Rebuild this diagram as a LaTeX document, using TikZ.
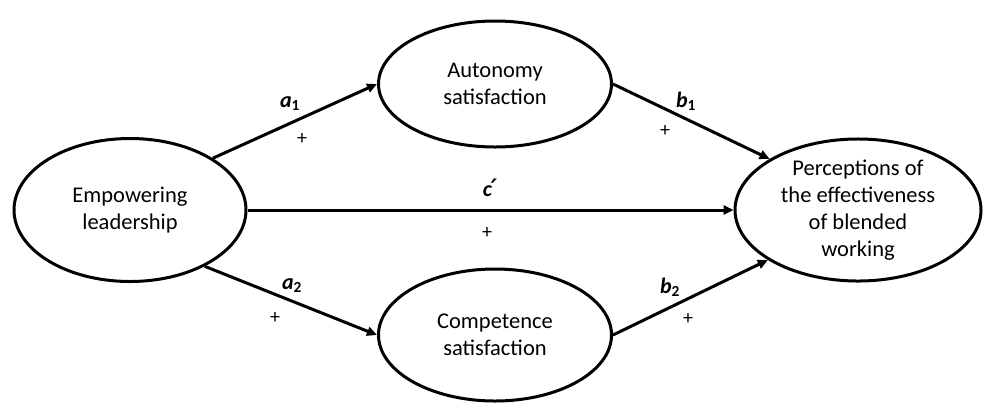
\documentclass[tikz,border=0pt]{standalone}
\usepackage{fontspec}
\setmainfont{Carlito}
\newfontfamily\primefont{DejaVu Sans}
\usetikzlibrary{shapes.geometric,arrows.meta}
\begin{document}
\begin{tikzpicture}[x=1pt,y=-1pt,
  ell/.style={draw,ellipse,line width=3pt,inner sep=0pt,align=center,
    font=\fontsize{22.5}{27}\selectfont},
  arr/.style={line width=3pt,-{Triangle[length=10pt,width=9pt]}},
  lab/.style={font=\fontsize{22}{26}\selectfont\bfseries\itshape},
  pl/.style={font=\fontsize{20}{24}\selectfont}]
\useasboundingbox (0,0) rectangle (984,405);
\node[ell,minimum width=232pt,minimum height=143pt] (emp) at (130,210) {Empowering\\leadership};
\node[ell,minimum width=233pt,minimum height=126pt] (aut) at (495,84) {Autonomy\\satisfaction};
\node[ell,minimum width=233pt,minimum height=132pt] (com) at (495,335) {Competence\\satisfaction};
\node[ell,minimum width=246pt,minimum height=132pt] (per) at (858,210) {Perceptions of\\the effectiveness\\of blended\\working};
\draw[arr] (emp.32) -- (aut.180);
\draw[arr] (aut.0) -- (per.150);
\draw[arr] (emp.east) -- (per.west);
\draw[arr] (emp.-37) -- (com.180);
\draw[arr] (com.0) -- (per.209);
\node[lab] (la1) at (290,104) {a\textsubscript{\upshape 1}};
\node[pl] (pa1) at (302,139) {+};
\node[lab] (lb1) at (686,101) {b\textsubscript{\upshape 1}};
\node[pl] (pb1) at (665,131) {+};
\node[lab] (lc) at (490,188) {c\kern-1pt{\primefont\fontsize{24}{26}\selectfont ′}};
\node[pl] (pc) at (487,233) {+};
\node[lab] (la2) at (292,286) {a\textsubscript{\upshape 2}};
\node[pl] (pa2) at (275,318) {+};
\node[lab] (lb2) at (670,287) {b\textsubscript{\upshape 2}};
\node[pl] (pb2) at (688,319) {+};
\end{tikzpicture}
\end{document}
